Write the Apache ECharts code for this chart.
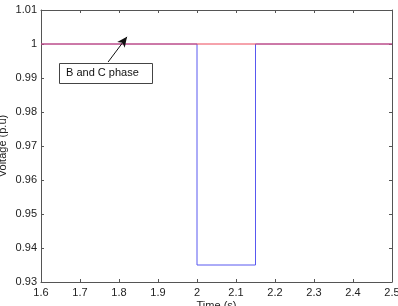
<!DOCTYPE html>
<html><head><meta charset="utf-8">
<script src="https://cdn.jsdelivr.net/npm/echarts@6/dist/echarts.min.js"></script>
<style>html,body{margin:0;padding:0;background:#fff}#c{width:398px;height:306px}</style>
</head><body><div id="c"></div>
<script>
const xTicks = [1.6,1.7,1.8,1.9,2.0,2.1,2.2,2.3,2.4,2.5];
const yTicks = [0.93,0.94,0.95,0.96,0.97,0.98,0.99,1.0,1.01];
const phaseATime = [1.6, 2.0, 2.0, 2.15, 2.15, 2.5];
const phaseAVolt = [1.0, 1.0, 0.935, 0.935, 1.0, 1.0];
const phaseBCTime = [1.6, 2.5];
const phaseBCVolt = [1.0, 1.0];
const annotText = 'B and C phase';
const arrowFrom = [1.772, 0.9947];
const arrowTo = [1.8205, 1.0021];

const chart = echarts.init(document.getElementById('c'), null, {renderer:'canvas'});
const font = 'Liberation Sans, Arial, sans-serif';
const axisCol = '#555';
const xBase = {type:'value', min:1.6, max:2.5, interval:0.1,
  axisLine:{show:true, onZero:false, lineStyle:{color:axisCol, width:1}},
  axisTick:{show:true, inside:true, length:3, lineStyle:{color:axisCol}},
  splitLine:{show:false}};
const yBase = {type:'value', min:0.93, max:1.01, interval:0.01,
  axisLine:{show:true, onZero:false, lineStyle:{color:axisCol, width:1}},
  axisTick:{show:true, inside:true, length:3, lineStyle:{color:axisCol}},
  splitLine:{show:false}};
chart.setOption({
  animation:false,
  grid:{left:41, right:6, top:10, bottom:24, containLabel:false, outerBoundsMode:'none'},
  xAxis:[
    Object.assign({}, xBase, {position:'bottom',
      name:'Time (s)', nameLocation:'middle', nameGap:18, nameMoveOverlap:false,
      nameTextStyle:{fontFamily:font, fontSize:11, color:'#222'},
      axisLabel:{fontFamily:font, fontSize:11, color:'#222', margin:5,
        formatter:v=>{const r=Math.round(v*10)/10; return Number.isInteger(r)?String(r):r.toFixed(1);}}}),
    Object.assign({}, xBase, {position:'top', axisLabel:{show:false}})
  ],
  yAxis:[
    Object.assign({}, yBase, {position:'left',
      name:'Voltage (p.u)', nameLocation:'middle', nameGap:33, nameMoveOverlap:false,
      nameTextStyle:{fontFamily:font, fontSize:11, color:'#222'},
      axisLabel:{fontFamily:font, fontSize:11, color:'#222', margin:4,
        formatter:v=>String(Math.round(v*100)/100)}}),
    Object.assign({}, yBase, {position:'right', axisLabel:{show:false}})
  ],
  series:[
    {type:'line', name:'A phase', showSymbol:false, symbol:'none',
      data:phaseATime.map((t,i)=>[t,phaseAVolt[i]]),
      lineStyle:{color:'#5858f0', width:1}, z:2},
    {type:'line', name:'B and C phase', showSymbol:false, symbol:'none',
      data:phaseBCTime.map((t,i)=>[t,phaseBCVolt[i]]),
      lineStyle:{color:'#ec4658', width:1}, z:3,
      markLine:{silent:true, symbol:['none','arrow'], symbolSize:[7,10],
        lineStyle:{color:'#111', width:1, type:'solid'}, label:{show:false},
        data:[[{coord:arrowFrom},{coord:arrowTo}]]}}
  ]
});
const boxLeft = chart.convertToPixel({xAxisIndex:0,yAxisIndex:0},[1.646,0.9944]);
chart.setOption({graphic:[
  {type:'rect', shape:{x:Math.round(boxLeft[0])+0.5, y:Math.round(boxLeft[1])+0.5, width:93, height:20},
   style:{fill:'#fff', stroke:'#444', lineWidth:1}, z:10},
  {type:'text', x:Math.round(boxLeft[0])+7, y:Math.round(boxLeft[1])+10,
   style:{text:annotText, font:'11px '+font, fill:'#111', textVerticalAlign:'middle'}, z:11}
]});
</script></body></html>
